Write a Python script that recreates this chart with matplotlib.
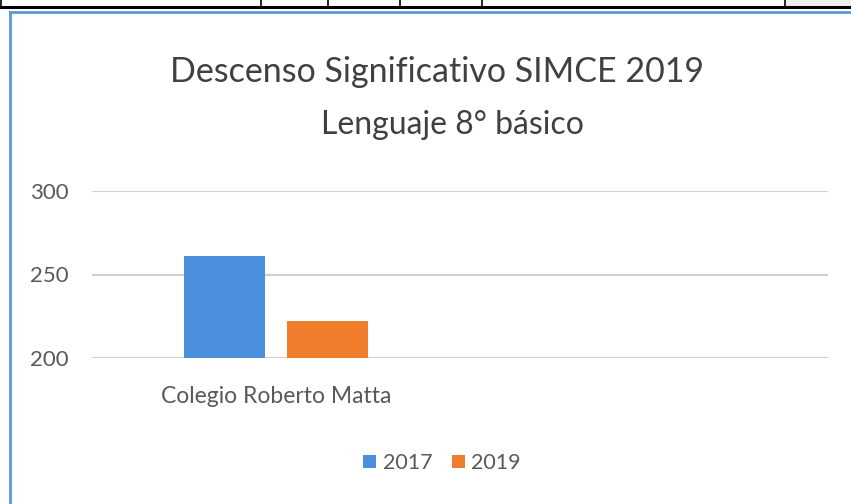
import matplotlib.pyplot as plt
from matplotlib.lines import Line2D
from matplotlib.patches import Rectangle

categories = ['Colegio Roberto Matta', '']
years = ['2017', '2019']
scores_2017 = [261, 0]
scores_2019 = [222, 0]
yticks = [200, 250, 300]

blue = '#4a8fdc'
orange = '#f07d2c'
txt = '#404040'

plt.rcParams['font.family'] = ['Lato', 'DejaVu Sans']

fig = plt.figure(figsize=(8.51, 5.04), dpi=100)
W, H = 851, 504

def fx(x):
    return x / W

def fy(y):
    return 1 - y / H

# fragment of the table above the chart
fig.patches.append(Rectangle((fx(785), fy(7)), fx(66), 7 / H, transform=fig.transFigure,
                             facecolor='#eeeeee', edgecolor='none'))
fig.lines.append(Line2D([0, 1], [fy(7), fy(7)], transform=fig.transFigure, color='black', lw=2.2))
for x in [0.5, 261, 328, 400, 482, 785]:
    fig.lines.append(Line2D([fx(x), fx(x)], [1, fy(7)], transform=fig.transFigure, color='black', lw=1.2))

# chart frame (blue border)
fig.lines.append(Line2D([fx(10), 1], [fy(12), fy(12)], transform=fig.transFigure, color='#5b9bd5', lw=2))
fig.lines.append(Line2D([fx(10), fx(10)], [fy(12), 0], transform=fig.transFigure, color='#5b9bd5', lw=2))

fig.text(fx(437), fy(72), 'Descenso Significativo SIMCE 2019', ha='center', va='center',
         fontsize=24.5, color=txt)
fig.text(fx(452), fy(125), 'Lenguaje 8° básico', ha='center', va='center',
         fontsize=23, color=txt)

ax = fig.add_axes([fx(92), fy(358), fx(828 - 92), (358 - 191) / H])
x = range(len(categories))
w = 0.22
ax.bar([i - 0.14 for i in x], [v - 200 if v else 0 for v in scores_2017], width=w,
       bottom=200, color=blue, label=years[0], zorder=3)
ax.bar([i + 0.14 for i in x], [v - 200 if v else 0 for v in scores_2019], width=w,
       bottom=200, color=orange, label=years[1], zorder=3)
ax.set_xlim(-0.5, 1.5)
ax.set_ylim(200, 300)
ax.set_yticks(yticks)
ax.set_yticklabels([str(t) for t in yticks])
ax.set_xticks(list(x))
ax.set_xticklabels(categories)
ax.grid(axis='y', color='#d0d0d0', lw=1.5, zorder=0)
ax.tick_params(length=0, colors='#595959', labelsize=16)
ax.tick_params(axis='y', pad=17)
ax.tick_params(axis='x', pad=20, labelsize=16.5)
for s in ax.spines.values():
    s.set_visible(False)

ax.legend(loc='center', bbox_to_anchor=(fx(442), fy(463)), bbox_transform=fig.transFigure,
          ncol=2, frameon=False, fontsize=15.5, handlelength=0.6, handleheight=0.6,
          handletextpad=0.3, columnspacing=0.9, labelcolor='#595959')

fig.savefig('out.png', dpi=100)
